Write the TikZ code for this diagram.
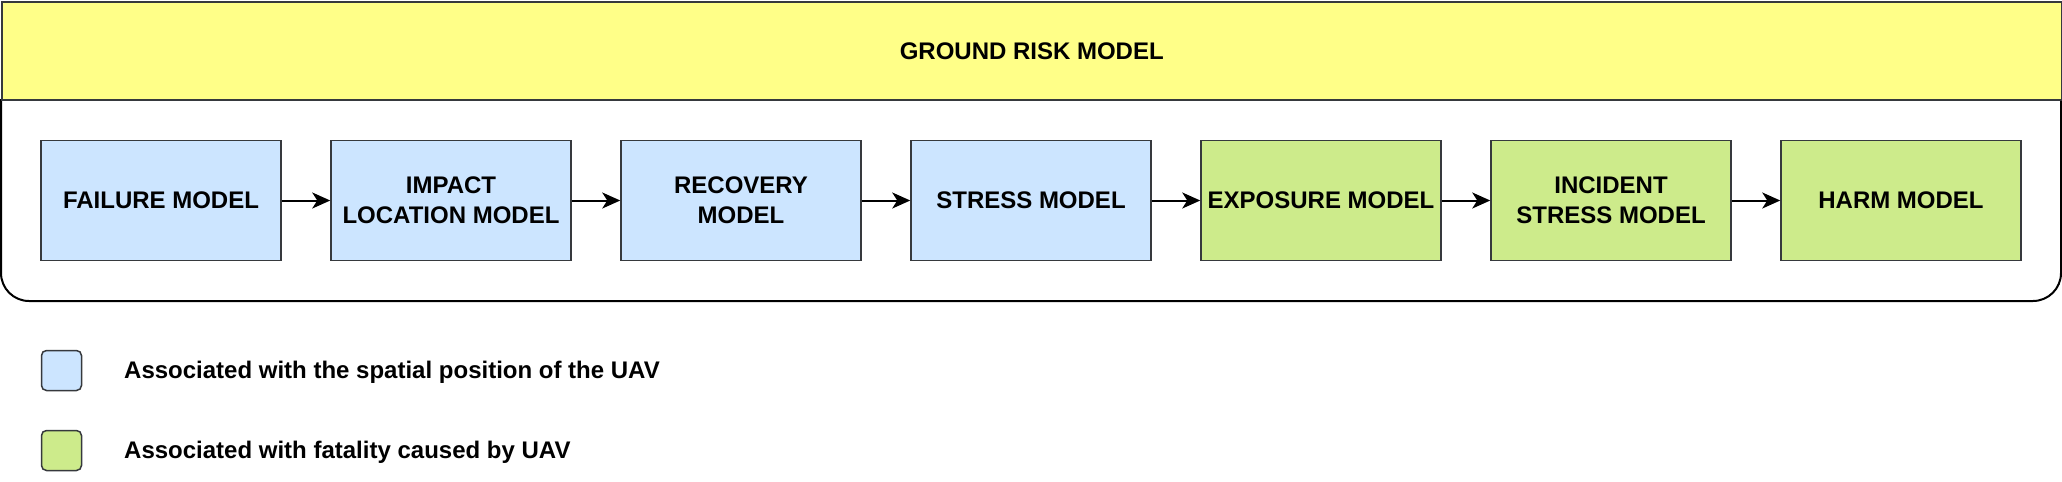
\documentclass[tikz,border=0pt]{standalone}
\usepackage{fontspec}
\setmainfont{Liberation Sans}
\usetikzlibrary{arrows.meta}
\definecolor{hdrfill}{HTML}{FFFF88}
\definecolor{bluefill}{HTML}{CCE5FF}
\definecolor{greenfill}{HTML}{CDEB8B}
\definecolor{strokec}{HTML}{36393D}
\tikzset{
  mbox/.style={draw=strokec, line width=1.5pt, minimum width=240pt, minimum height=120pt, inner sep=0pt, align=center},
  bluebox/.style={mbox, fill=bluefill},
  greenbox/.style={mbox, fill=greenfill},
  arr/.style={-{Stealth[length=18pt,width=16pt,inset=5pt]}, line width=2pt, black},
  legsq/.style={draw=strokec, line width=1.5pt, minimum width=40pt, minimum height=40pt, rounded corners=5pt, inner sep=0pt},
  legtxt/.style={anchor=base west, inner sep=0pt}
}
\begin{document}
\begin{tikzpicture}[x=1pt,y=-1pt,font=\bfseries\fontsize{24}{30}\selectfont]
\useasboundingbox (0,0) rectangle (2062,482);
\fill[white] (0,0) rectangle (2062,482);
% container
\draw[line width=2pt, fill=white, rounded corners=28pt] (1,99) -- (1,301) -- (2061,301) -- (2061,99);
% header
\node[draw=strokec, fill=hdrfill, line width=1.5pt, minimum width=2060pt, minimum height=98pt, inner sep=0pt, anchor=north west] (hdr) at (1,1) {GROUND RISK MODEL};
% boxes
\node[bluebox] (fail) at (161,200.5) {FAILURE MODEL};
\node[bluebox] (impact) at (451,200.5) {IMPACT\\LOCATION MODEL};
\node[bluebox] (recov) at (741,200.5) {RECOVERY\\MODEL};
\node[bluebox] (stress) at (1031,200.5) {STRESS MODEL};
\node[greenbox] (expo) at (1321,200.5) {EXPOSURE MODEL};
\node[greenbox] (incid) at (1611,200.5) {INCIDENT\\STRESS MODEL};
\node[greenbox] (harm) at (1901,200.5) {HARM MODEL};
% arrows
\draw[arr] (fail) -- (impact);
\draw[arr] (impact) -- (recov);
\draw[arr] (recov) -- (stress);
\draw[arr] (stress) -- (expo);
\draw[arr] (expo) -- (incid);
\draw[arr] (incid) -- (harm);
% legend
\node[legsq, fill=bluefill] (leg1) at (61.5,370.5) {};
\node[legsq, fill=greenfill] (leg2) at (61.5,450.5) {};
\node[legtxt] (legt1) at (124,378) {Associated with the spatial position of the UAV};
\node[legtxt] (legt2) at (124,458) {Associated with fatality caused by UAV};
\end{tikzpicture}
\end{document}
